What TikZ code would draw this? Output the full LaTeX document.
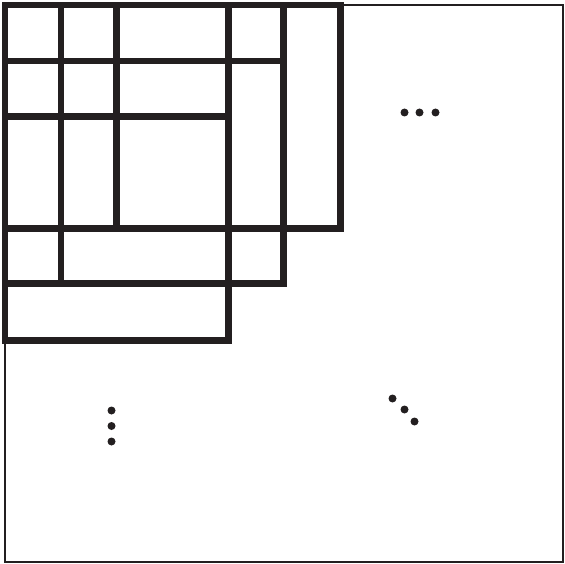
\documentclass[tikz,border=0pt]{standalone}
\definecolor{ink}{HTML}{231F20}
\begin{document}
\begin{tikzpicture}[x=1pt,y=-1pt,
  heavy/.style={line width=6.5pt, draw=ink},
  frame/.style={line width=2pt, draw=ink},
  dotmark/.style={fill=ink}]
\useasboundingbox (0,0) rectangle (565,564);
% outer frame
\draw[frame] (5,5) rectangle (563,562);
% three overlapping rectangles
\draw[heavy] (5,5) rectangle (340.5,228.5);
\draw[heavy] (5,5) rectangle (283.5,283.5);
\draw[heavy] (5,5) rectangle (228.5,340.5);
% inner vertical lines
\draw[heavy] (61,5) -- (61,283.5);
\draw[heavy] (116.5,5) -- (116.5,228.5);
% inner horizontal lines
\draw[heavy] (5,61) -- (283.5,61);
\draw[heavy] (5,116.5) -- (228.5,116.5);
% dots
\foreach \p in {(404.5,112.5),(419.5,112.5),(435.5,112.5),
                (392.5,398.5),(404.5,409.5),(414.5,421.5),
                (111.5,410.5),(111.5,426),(111.5,441.5)}
  \fill[dotmark] \p circle (4);
\end{tikzpicture}
\end{document}
